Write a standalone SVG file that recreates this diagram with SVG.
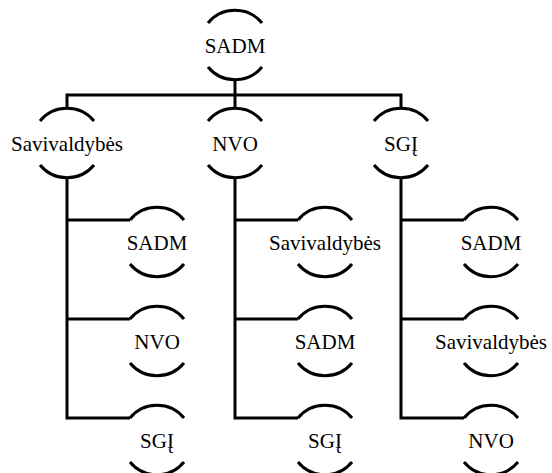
<svg xmlns="http://www.w3.org/2000/svg" width="552" height="473" viewBox="0 0 552 473">
<rect width="552" height="473" fill="#fff"/>
<g id="connectors" fill="none" stroke="#000" stroke-width="3" stroke-linejoin="miter">
<path d="M235,80 V95"/>
<path d="M67,108 V95 H401 V108"/>
<path d="M235,95 V108"/>
<path d="M67,178 V418 H130"/>
<path d="M67,220 H130 M67,319 H130"/>
<path d="M235,178 V418 H298"/>
<path d="M235,220 H298 M235,319 H298"/>
<path d="M401,178 V418 H464"/>
<path d="M401,220 H464 M401,319 H464"/>
</g>
<g id="n0"><path fill="none" stroke="#000" stroke-width="3" d="M208,23 A35,35 0 0 1 262,23 M208,67 A35,35 0 0 0 262,67"/><text x="204.7" y="53" font-size="21" font-family="'Liberation Serif'">SADM</text></g>
<g id="n1"><path fill="none" stroke="#000" stroke-width="3" d="M40,121 A35,35 0 0 1 94,121 M40,165 A35,35 0 0 0 94,165"/><text x="11" y="151" font-size="21" font-family="'Liberation Serif'">Savivaldybės</text></g>
<g id="n2"><path fill="none" stroke="#000" stroke-width="3" d="M208,121 A35,35 0 0 1 262,121 M208,165 A35,35 0 0 0 262,165"/><text x="212.3" y="151" font-size="21" font-family="'Liberation Serif'">NVO</text></g>
<g id="n3"><path fill="none" stroke="#000" stroke-width="3" d="M374,121 A35,35 0 0 1 428,121 M374,165 A35,35 0 0 0 428,165"/><text x="384.1" y="151" font-size="21" font-family="'Liberation Serif'">SGĮ</text></g>
<g id="n1a"><path fill="none" stroke="#000" stroke-width="3" d="M130,220 A35,35 0 0 1 184,220 M130,264 A35,35 0 0 0 184,264"/><text x="126.7" y="250" font-size="21" font-family="'Liberation Serif'">SADM</text></g>
<g id="n1b"><path fill="none" stroke="#000" stroke-width="3" d="M130,319 A35,35 0 0 1 184,319 M130,363 A35,35 0 0 0 184,363"/><text x="134.3" y="349" font-size="21" font-family="'Liberation Serif'">NVO</text></g>
<g id="n1c"><path fill="none" stroke="#000" stroke-width="3" d="M130,418 A35,35 0 0 1 184,418 M130,462 A35,35 0 0 0 184,462"/><text x="140.1" y="448" font-size="21" font-family="'Liberation Serif'">SGĮ</text></g>
<g id="n2a"><path fill="none" stroke="#000" stroke-width="3" d="M298,220 A35,35 0 0 1 352,220 M298,264 A35,35 0 0 0 352,264"/><text x="269" y="250" font-size="21" font-family="'Liberation Serif'">Savivaldybės</text></g>
<g id="n2b"><path fill="none" stroke="#000" stroke-width="3" d="M298,319 A35,35 0 0 1 352,319 M298,363 A35,35 0 0 0 352,363"/><text x="294.7" y="349" font-size="21" font-family="'Liberation Serif'">SADM</text></g>
<g id="n2c"><path fill="none" stroke="#000" stroke-width="3" d="M298,418 A35,35 0 0 1 352,418 M298,462 A35,35 0 0 0 352,462"/><text x="308.1" y="448" font-size="21" font-family="'Liberation Serif'">SGĮ</text></g>
<g id="n3a"><path fill="none" stroke="#000" stroke-width="3" d="M464,220 A35,35 0 0 1 518,220 M464,264 A35,35 0 0 0 518,264"/><text x="460.7" y="250" font-size="21" font-family="'Liberation Serif'">SADM</text></g>
<g id="n3b"><path fill="none" stroke="#000" stroke-width="3" d="M464,319 A35,35 0 0 1 518,319 M464,363 A35,35 0 0 0 518,363"/><text x="435" y="349" font-size="21" font-family="'Liberation Serif'">Savivaldybės</text></g>
<g id="n3c"><path fill="none" stroke="#000" stroke-width="3" d="M464,418 A35,35 0 0 1 518,418 M464,462 A35,35 0 0 0 518,462"/><text x="468.3" y="448" font-size="21" font-family="'Liberation Serif'">NVO</text></g>
</svg>
